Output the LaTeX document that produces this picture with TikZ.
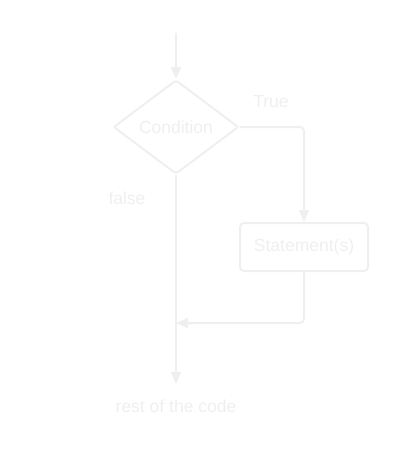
\documentclass[tikz,border=0pt]{standalone}
\usepackage{fontspec}
\setmainfont{Liberation Sans}
\usepackage{tikz}
\usepackage{xcolor}
\usetikzlibrary{arrows.meta,shapes.geometric}
\definecolor{faint}{RGB}{239,239,239}
\tikzstyle{cond}	=[diamond,draw=faint,line width=2pt,minimum width=125pt,minimum height=94pt,inner sep=0pt,rounded corners=2pt,text=faint,font=\fontsize{17.5}{20}\selectfont]
\tikzstyle{stmtbox}	=[rectangle,draw=faint,line width=2pt,minimum width=128pt,minimum height=48pt,inner sep=0pt,rounded corners=4pt,text=faint,font=\fontsize{17.5}{20}\selectfont]
\tikzstyle{lbl}		=[inner sep=0pt,text=faint,font=\fontsize{17.5}{20}\selectfont]
\tikzstyle{edgeflow}	=[draw,line width=2pt,faint,-{Triangle[length=12pt,width=10pt]},rounded corners=4pt]
\tikzstyle{edgeplain}	=[draw,line width=2pt,faint,rounded corners=4pt]

\begin{document}
\begin{tikzpicture}[x=1pt,y=-1pt]
		\useasboundingbox (0,0) rectangle (400,464);
		
		%%%%% Blocks
		\coordinate (start) at (176,33);
		\node[cond] (c) at (176,127) {Condition};
		\node[stmtbox] (s) at (304,247) {Statement(s)};
		\coordinate (merge) at (176,323);
		\coordinate (stop) at (176,384);
		
		%%%% Labels
		\node[lbl] (t) at (271,102) {True};
		\node[lbl] (f) at (127,198) {false};
		\node[lbl] (rest) at (176,406) {rest of the code};
		
		%%%% Flow
		\path[edgeflow] (start) -- (c.north);
		\path[edgeflow] (c.east) -| (s.north);
		\path[edgeflow] (s.south) |- (merge);
		\path[edgeflow] (c.south) -- (stop);
\end{tikzpicture}
\end{document}
